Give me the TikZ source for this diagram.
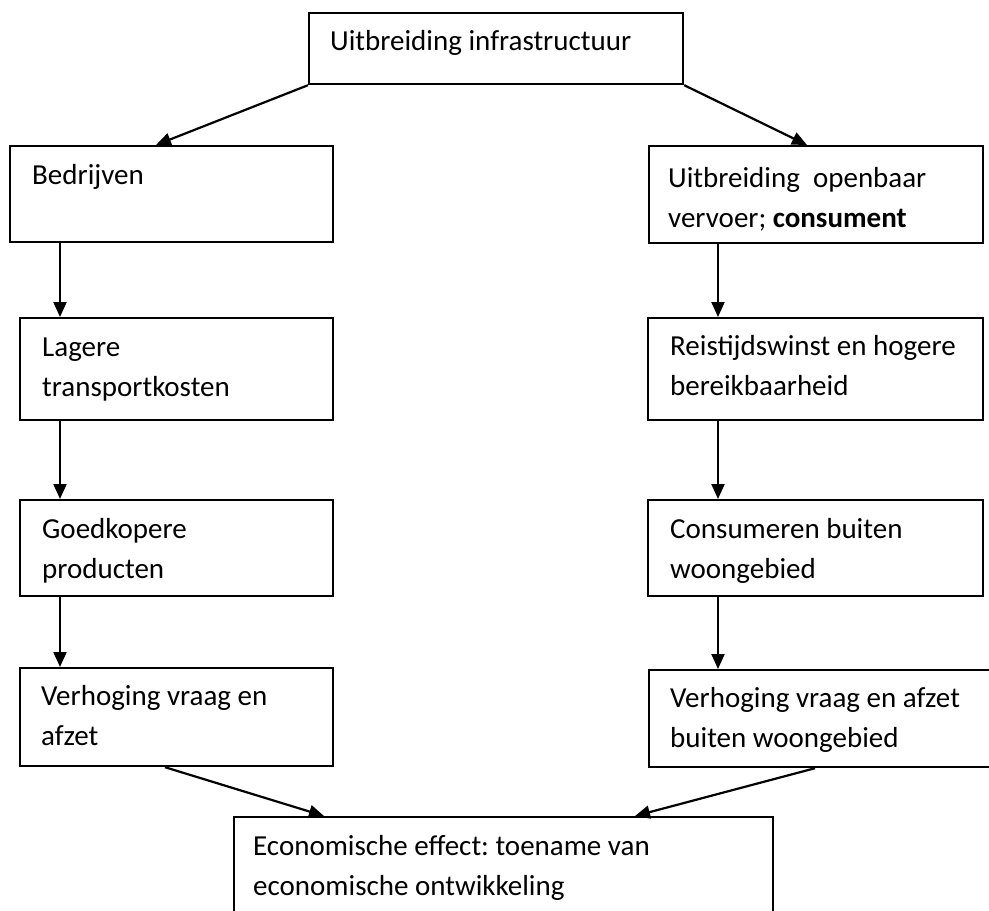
\documentclass[tikz,border=0pt]{standalone}
\usepackage{fontspec}
\setmainfont{Carlito}
\frenchspacing
\usetikzlibrary{arrows.meta,calc}
\tikzset{
  box/.style={draw, line width=2.2pt, rectangle, inner sep=0pt, anchor=north west},
  lbl/.style={anchor=base west, inner sep=0pt, font=\fontsize{29}{40}\selectfont},
  arr/.style={line width=2.2pt, -{Triangle[length=15pt,width=13pt]}},
}
\newcommand{\twolines}[2]{\parbox[t]{600pt}{#1\\#2}}
\begin{document}
\begin{tikzpicture}[x=1pt,y=-1pt]
\clip (0,0) rectangle (989,911);
\fill[white] (0,0) rectangle (989,911);
% boxes
\node[box, minimum width=374pt, minimum height=71pt] (top) at (308,12) {};
\node[box, minimum width=323pt, minimum height=96pt] (bed) at (9,145) {};
\node[box, minimum width=313pt, minimum height=102pt] (lag) at (19,317) {};
\node[box, minimum width=313pt, minimum height=96pt] (goe) at (19,499) {};
\node[box, minimum width=313pt, minimum height=98pt] (vl) at (19,667) {};
\node[box, minimum width=334pt, minimum height=97pt] (uo) at (648,145) {};
\node[box, minimum width=335pt, minimum height=102pt] (rei) at (647,317) {};
\node[box, minimum width=335pt, minimum height=96pt] (con) at (647,499) {};
\node[box, minimum width=350pt, minimum height=97pt] (vr) at (648,669) {};
\node[box, minimum width=539pt, minimum height=130pt] (eco) at (233,816) {};
% texts
\node[lbl] (ttop) at (330,50) {Uitbreiding infrastructuur};
\node[lbl] (tbed) at (32,184) {Bedrijven};
\node[lbl] (tuo) at (668,187) {\twolines{Uitbreiding~~openbaar}{vervoer; \textbf{consument}}};
\node[lbl] (tlag) at (42,356) {\twolines{Lagere}{transportkosten}};
\node[lbl] (trei) at (670,355) {\twolines{Reistijdswinst en hogere}{bereikbaarheid}};
\node[lbl] (tgoe) at (42,538) {\twolines{Goedkopere}{producten}};
\node[lbl] (tcon) at (670,538) {\twolines{Consumeren buiten}{woongebied}};
\node[lbl] (tvl) at (41,705) {\twolines{Verhoging vraag en}{afzet}};
\node[lbl] (tvr) at (670,707) {\twolines{Verhoging vraag en afzet}{buiten woongebied}};
\node[lbl] (teco) at (253,855) {\twolines{Economische effect: toename van}{economische ontwikkeling}};
% connectors
\draw[arr] (top.south west) -- ([xshift=147pt]bed.north west);
\draw[arr] (top.south east) -- ([xshift=159pt]uo.north west);
\draw[arr] ([xshift=51pt]bed.south west) -- ([xshift=41pt]lag.north west);
\draw[arr] ([xshift=41pt]lag.south west) -- ([xshift=41pt]goe.north west);
\draw[arr] ([xshift=41pt]goe.south west) -- ([xshift=41pt]vl.north west);
\draw[arr] ([xshift=70pt]uo.south west) -- ([xshift=71pt]rei.north west);
\draw[arr] ([xshift=71pt]rei.south west) -- ([xshift=71pt]con.north west);
\draw[arr] ([xshift=71pt]con.south west) -- ([xshift=70pt]vr.north west);
\draw[arr] ([xshift=146pt]vl.south west) -- ([xshift=91pt]eco.north west);
\draw[arr] ([xshift=167pt]vr.south west) -- ([xshift=402pt]eco.north west);
\end{tikzpicture}
\end{document}
